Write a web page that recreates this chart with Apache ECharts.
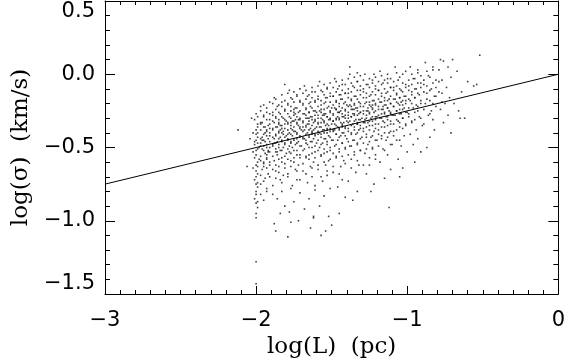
<!DOCTYPE html>
<html>
<head>
<meta charset="utf-8">
<script src="https://cdn.jsdelivr.net/npm/echarts@6/dist/echarts.min.js"></script>
<style>
  html, body { margin: 0; padding: 0; background: #fff; }
  #chart { width: 568px; height: 364px; }
</style>
</head>
<body>
<div id="chart"></div>
<script>
// tick labels
const xTicks = [-3, -2, -1, 0];
const yTicks = [-1.5, -1.0, -0.5, 0.0, 0.5];

// fitted relation drawn across the plot
const fitLine = [[-3, -0.75], [0, 0.0]];

// column of clouds sitting at log(L) = -2 and a few strays
const colAtMinus2 = [
  [-2.00,-0.27],[-2.01,-0.31],[-1.99,-0.34],[-2.00,-0.38],[-2.02,-0.40],[-1.99,-0.43],[-2.00,-0.45],[-2.01,-0.48],
  [-1.98,-0.50],[-2.00,-0.52],[-2.00,-0.55],[-2.01,-0.57],[-1.99,-0.60],[-2.00,-0.62],[-2.02,-0.64],[-2.00,-0.66],
  [-1.99,-0.68],[-2.00,-0.70],[-2.01,-0.72],[-2.00,-0.75],[-1.99,-0.77],[-2.00,-0.80],[-2.00,-0.82],[-2.01,-0.85],
  [-2.00,-0.88],[-1.99,-0.91],[-2.00,-0.95],[-2.00,-0.98],[-1.99,-0.36],[-2.01,-0.46],[-1.98,-0.58],[-2.00,-0.41],
  [-2.02,-0.53],[-1.99,-0.47],[-2.00,-1.28],[-2.00,-1.43],[-2.06,-0.63],[-2.12,-0.38],[-2.03,-0.30],[-2.04,-0.44]
];

// dense part of the cloud, log(L) from -2 to -1.5
const cloudLeft = [
  [-1.97,-0.22],[-1.93,-0.26],[-1.95,-0.29],[-1.91,-0.31],[-1.96,-0.33],[-1.92,-0.35],[-1.94,-0.36],[-1.97,-0.38],
  [-1.93,-0.39],[-1.95,-0.41],[-1.91,-0.42],[-1.96,-0.43],[-1.92,-0.44],[-1.94,-0.46],[-1.97,-0.47],[-1.93,-0.48],
  [-1.95,-0.49],[-1.91,-0.50],[-1.96,-0.51],[-1.92,-0.53],[-1.94,-0.54],[-1.97,-0.56],[-1.93,-0.58],[-1.95,-0.60],
  [-1.91,-0.62],[-1.96,-0.65],[-1.92,-0.68],[-1.94,-0.71],[-1.97,-0.75],[-1.93,-0.80],[-1.95,-0.86],[-1.91,-0.37],
  [-1.96,-0.45],[-1.92,-0.52],[-1.94,-0.40],[-1.97,-0.34],[-1.93,-0.57],[-1.95,-0.63],
  [-1.88,-0.16],[-1.83,-0.19],[-1.86,-0.22],[-1.81,-0.24],[-1.89,-0.26],[-1.84,-0.27],[-1.87,-0.29],[-1.82,-0.30],
  [-1.85,-0.31],[-1.88,-0.33],[-1.81,-0.34],[-1.84,-0.35],[-1.86,-0.36],[-1.83,-0.37],[-1.89,-0.38],[-1.82,-0.39],
  [-1.85,-0.40],[-1.87,-0.41],[-1.80,-0.42],[-1.84,-0.43],[-1.88,-0.44],[-1.83,-0.45],[-1.86,-0.46],[-1.81,-0.47],
  [-1.85,-0.48],[-1.89,-0.49],[-1.82,-0.50],[-1.87,-0.51],[-1.84,-0.52],[-1.80,-0.54],[-1.86,-0.55],[-1.83,-0.57],
  [-1.88,-0.59],[-1.81,-0.61],[-1.85,-0.63],[-1.87,-0.66],[-1.82,-0.69],[-1.84,-0.72],[-1.89,-0.76],[-1.83,-0.80],
  [-1.86,-0.85],[-1.81,-0.90],[-1.85,-0.34],[-1.82,-0.41],[-1.88,-0.47],[-1.84,-0.38],[-1.86,-0.53],[-1.80,-0.32],
  [-1.78,-0.11],[-1.73,-0.14],[-1.76,-0.17],[-1.71,-0.19],[-1.79,-0.21],[-1.74,-0.23],[-1.77,-0.25],[-1.72,-0.26],
  [-1.75,-0.28],[-1.78,-0.29],[-1.71,-0.30],[-1.74,-0.31],[-1.76,-0.32],[-1.73,-0.33],[-1.79,-0.34],[-1.72,-0.35],
  [-1.75,-0.36],[-1.77,-0.37],[-1.70,-0.38],[-1.74,-0.39],[-1.78,-0.40],[-1.73,-0.41],[-1.76,-0.42],[-1.71,-0.43],
  [-1.75,-0.44],[-1.79,-0.45],[-1.72,-0.46],[-1.77,-0.47],[-1.74,-0.48],[-1.70,-0.49],[-1.76,-0.50],[-1.73,-0.52],
  [-1.78,-0.53],[-1.71,-0.55],[-1.75,-0.57],[-1.77,-0.59],[-1.72,-0.62],[-1.74,-0.65],[-1.79,-0.68],[-1.73,-0.72],
  [-1.76,-0.76],[-1.71,-0.81],[-1.75,-0.87],[-1.78,-0.94],[-1.72,-1.00],[-1.74,-0.27],[-1.77,-0.33],[-1.71,-0.36],
  [-1.79,-0.41],[-1.73,-0.44],[-1.76,-0.38],[-1.72,-0.31],[-1.78,-0.49],[-1.75,-0.24],
  [-1.68,-0.08],[-1.63,-0.12],[-1.66,-0.15],[-1.61,-0.18],[-1.69,-0.20],[-1.64,-0.22],[-1.67,-0.23],[-1.62,-0.25],
  [-1.65,-0.26],[-1.68,-0.27],[-1.61,-0.28],[-1.64,-0.29],[-1.66,-0.30],[-1.63,-0.31],[-1.69,-0.32],[-1.62,-0.33],
  [-1.65,-0.34],[-1.67,-0.35],[-1.60,-0.36],[-1.64,-0.37],[-1.68,-0.38],[-1.63,-0.39],[-1.66,-0.40],[-1.61,-0.41],
  [-1.65,-0.42],[-1.69,-0.43],[-1.62,-0.44],[-1.67,-0.45],[-1.64,-0.46],[-1.60,-0.47],[-1.66,-0.48],[-1.63,-0.50],
  [-1.68,-0.51],[-1.61,-0.53],[-1.65,-0.55],[-1.67,-0.57],[-1.62,-0.60],[-1.64,-0.63],[-1.69,-0.66],[-1.63,-0.70],
  [-1.66,-0.74],[-1.61,-0.79],[-1.65,-0.85],[-1.68,-0.92],[-1.62,-0.98],[-1.64,-1.05],[-1.67,-0.28],[-1.61,-0.32],
  [-1.69,-0.36],[-1.63,-0.41],[-1.66,-0.34],[-1.62,-0.38],[-1.68,-0.44],[-1.65,-0.30],[-1.60,-0.26],[-1.64,-0.19],
  [-1.58,-0.05],[-1.53,-0.09],[-1.56,-0.12],[-1.51,-0.15],[-1.59,-0.17],[-1.54,-0.19],[-1.57,-0.21],[-1.52,-0.22],
  [-1.55,-0.24],[-1.58,-0.25],[-1.51,-0.26],[-1.54,-0.27],[-1.56,-0.28],[-1.53,-0.29],[-1.59,-0.30],[-1.52,-0.31],
  [-1.55,-0.32],[-1.57,-0.33],[-1.50,-0.34],[-1.54,-0.35],[-1.58,-0.36],[-1.53,-0.37],[-1.56,-0.38],[-1.51,-0.39],
  [-1.55,-0.40],[-1.59,-0.41],[-1.52,-0.42],[-1.57,-0.43],[-1.54,-0.44],[-1.50,-0.45],[-1.56,-0.47],[-1.53,-0.48],
  [-1.58,-0.50],[-1.51,-0.52],[-1.55,-0.54],[-1.57,-0.56],[-1.52,-0.59],[-1.54,-0.62],[-1.59,-0.65],[-1.53,-0.69],
  [-1.56,-0.73],[-1.51,-0.78],[-1.55,-0.83],[-1.58,-0.90],[-1.52,-0.97],[-1.54,-1.07],[-1.57,-0.26],[-1.51,-0.30],
  [-1.59,-0.34],[-1.53,-0.38],[-1.56,-0.31],[-1.52,-0.35],[-1.58,-0.40],[-1.55,-0.28],[-1.50,-0.23],[-1.54,-0.16]
];

// middle of the cloud, log(L) from -1.5 to -1
const cloudMid = [
  [-1.48,-0.03],[-1.43,-0.07],[-1.46,-0.10],[-1.41,-0.13],[-1.49,-0.15],[-1.44,-0.17],[-1.47,-0.19],[-1.42,-0.20],
  [-1.45,-0.22],[-1.48,-0.23],[-1.41,-0.24],[-1.44,-0.25],[-1.46,-0.26],[-1.43,-0.27],[-1.49,-0.28],[-1.42,-0.29],
  [-1.45,-0.30],[-1.47,-0.31],[-1.40,-0.32],[-1.44,-0.33],[-1.48,-0.34],[-1.43,-0.35],[-1.46,-0.36],[-1.41,-0.37],
  [-1.45,-0.38],[-1.49,-0.39],[-1.42,-0.40],[-1.47,-0.41],[-1.44,-0.42],[-1.40,-0.44],[-1.46,-0.45],[-1.43,-0.47],
  [-1.48,-0.49],[-1.41,-0.51],[-1.45,-0.53],[-1.47,-0.56],[-1.42,-0.59],[-1.44,-0.63],[-1.49,-0.67],[-1.43,-0.72],
  [-1.46,-0.77],[-1.41,-0.84],[-1.45,-0.95],[-1.47,-0.24],[-1.41,-0.28],[-1.49,-0.32],[-1.43,-0.36],[-1.46,-0.29],
  [-1.42,-0.33],[-1.48,-0.38],[-1.45,-0.26],[-1.40,-0.21],[-1.44,-0.14],
  [-1.38,0.00],[-1.33,-0.05],[-1.36,-0.08],[-1.31,-0.11],[-1.39,-0.13],[-1.34,-0.15],[-1.37,-0.17],[-1.32,-0.19],
  [-1.35,-0.20],[-1.38,-0.21],[-1.31,-0.22],[-1.34,-0.23],[-1.36,-0.24],[-1.33,-0.25],[-1.39,-0.26],[-1.32,-0.27],
  [-1.35,-0.28],[-1.37,-0.29],[-1.30,-0.30],[-1.34,-0.31],[-1.38,-0.32],[-1.33,-0.33],[-1.36,-0.34],[-1.31,-0.35],
  [-1.35,-0.36],[-1.39,-0.37],[-1.32,-0.38],[-1.37,-0.40],[-1.34,-0.41],[-1.30,-0.43],[-1.36,-0.45],[-1.33,-0.47],
  [-1.38,-0.49],[-1.31,-0.52],[-1.35,-0.55],[-1.37,-0.58],[-1.32,-0.62],[-1.34,-0.67],[-1.39,-0.73],[-1.33,-0.80],
  [-1.36,-0.86],[-1.37,-0.22],[-1.31,-0.26],[-1.39,-0.30],[-1.33,-0.34],[-1.36,-0.27],[-1.32,-0.31],[-1.35,-0.24],
  [-1.28,0.00],[-1.23,-0.04],[-1.26,-0.07],[-1.21,-0.10],[-1.29,-0.12],[-1.24,-0.14],[-1.27,-0.16],[-1.22,-0.18],
  [-1.25,-0.19],[-1.28,-0.20],[-1.21,-0.21],[-1.24,-0.22],[-1.26,-0.23],[-1.23,-0.24],[-1.29,-0.25],[-1.22,-0.26],
  [-1.25,-0.27],[-1.27,-0.28],[-1.20,-0.29],[-1.24,-0.30],[-1.28,-0.31],[-1.23,-0.32],[-1.26,-0.33],[-1.21,-0.34],
  [-1.25,-0.35],[-1.29,-0.37],[-1.22,-0.39],[-1.27,-0.41],[-1.24,-0.43],[-1.20,-0.45],[-1.26,-0.48],[-1.23,-0.51],
  [-1.28,-0.54],[-1.21,-0.58],[-1.25,-0.62],[-1.27,-0.68],[-1.22,-0.75],[-1.24,-0.80],[-1.26,-0.25],[-1.21,-0.29],
  [-1.28,-0.33],[-1.23,-0.21],
  [-1.18,0.02],[-1.13,-0.03],[-1.16,-0.06],[-1.11,-0.09],[-1.19,-0.11],[-1.14,-0.13],[-1.17,-0.15],[-1.12,-0.17],
  [-1.15,-0.18],[-1.18,-0.19],[-1.11,-0.20],[-1.14,-0.21],[-1.16,-0.22],[-1.13,-0.23],[-1.19,-0.24],[-1.12,-0.25],
  [-1.15,-0.26],[-1.17,-0.27],[-1.10,-0.28],[-1.14,-0.29],[-1.18,-0.30],[-1.13,-0.31],[-1.16,-0.32],[-1.11,-0.34],
  [-1.15,-0.36],[-1.19,-0.38],[-1.12,-0.40],[-1.17,-0.42],[-1.14,-0.45],[-1.10,-0.48],[-1.16,-0.51],[-1.13,-0.55],
  [-1.18,-0.60],[-1.11,-0.65],[-1.15,-0.71],[-1.12,-0.91],[-1.16,-0.24],[-1.11,-0.27],
  [-1.08,0.05],[-1.03,0.00],[-1.06,-0.04],[-1.01,-0.07],[-1.09,-0.09],[-1.04,-0.11],[-1.07,-0.13],[-1.02,-0.15],
  [-1.05,-0.16],[-1.08,-0.17],[-1.01,-0.18],[-1.04,-0.19],[-1.06,-0.20],[-1.03,-0.21],[-1.09,-0.22],[-1.02,-0.23],
  [-1.05,-0.24],[-1.07,-0.25],[-1.00,-0.26],[-1.04,-0.27],[-1.08,-0.28],[-1.03,-0.30],[-1.06,-0.32],[-1.01,-0.34],
  [-1.05,-0.36],[-1.09,-0.39],[-1.02,-0.42],[-1.07,-0.45],[-1.04,-0.49],[-1.00,-0.53],[-1.06,-0.58],[-1.03,-0.64],
  [-1.05,-0.70]
];

// more points filling the crowded core, read column by column
const cloudCore = [
  [-1.99,-0.29],[-1.99,-0.40],[-1.99,-0.51],[-1.99,-0.63],[-1.99,-0.74],[-1.99,-0.87],
  [-1.97,-0.25],[-1.97,-0.33],[-1.97,-0.44],[-1.97,-0.49],[-1.97,-0.59],[-1.97,-0.69],[-1.97,-0.82],
  [-1.95,-0.21],[-1.95,-0.28],[-1.95,-0.36],[-1.95,-0.45],[-1.95,-0.52],[-1.95,-0.61],[-1.95,-0.73],
  [-1.93,-0.23],[-1.93,-0.31],[-1.93,-0.38],[-1.93,-0.42],[-1.93,-0.50],[-1.93,-0.55],[-1.93,-0.64],[-1.93,-0.78],
  [-1.91,-0.19],[-1.91,-0.27],[-1.91,-0.34],[-1.91,-0.40],[-1.91,-0.46],[-1.91,-0.53],[-1.91,-0.60],[-1.91,-0.70],
  [-1.89,-0.20],[-1.89,-0.28],[-1.89,-0.32],[-1.89,-0.37],[-1.89,-0.43],[-1.89,-0.48],[-1.89,-0.56],[-1.89,-0.65],[-1.89,-0.82],
  [-1.87,-0.17],[-1.87,-0.24],[-1.87,-0.30],[-1.87,-0.36],[-1.87,-0.42],[-1.87,-0.47],[-1.87,-0.53],[-1.87,-0.62],[-1.87,-0.71],
  [-1.85,-0.21],[-1.85,-0.26],[-1.85,-0.33],[-1.85,-0.39],[-1.85,-0.44],[-1.85,-0.50],[-1.85,-0.58],[-1.85,-0.67],
  [-1.83,-0.14],[-1.83,-0.22],[-1.83,-0.29],[-1.83,-0.35],[-1.83,-0.40],[-1.83,-0.46],[-1.83,-0.52],[-1.83,-0.60],[-1.83,-0.74],
  [-1.81,-0.18],[-1.81,-0.25],[-1.81,-0.31],[-1.81,-0.37],[-1.81,-0.43],[-1.81,-0.48],[-1.81,-0.56],[-1.81,-0.64],
  [-1.79,-0.13],[-1.79,-0.20],[-1.79,-0.27],[-1.79,-0.33],[-1.79,-0.38],[-1.79,-0.44],[-1.79,-0.51],[-1.79,-0.58],[-1.79,-0.70],
  [-1.77,-0.16],[-1.77,-0.22],[-1.77,-0.30],[-1.77,-0.35],[-1.77,-0.41],[-1.77,-0.46],[-1.77,-0.54],[-1.77,-0.63],[-1.77,-0.78],
  [-1.75,-0.12],[-1.75,-0.19],[-1.75,-0.26],[-1.75,-0.32],[-1.75,-0.39],[-1.75,-0.45],[-1.75,-0.52],[-1.75,-0.60],
  [-1.73,-0.15],[-1.73,-0.23],[-1.73,-0.29],[-1.73,-0.34],[-1.73,-0.40],[-1.73,-0.47],[-1.73,-0.55],[-1.73,-0.66],
  [-1.71,-0.10],[-1.71,-0.18],[-1.71,-0.25],[-1.71,-0.31],[-1.71,-0.37],[-1.71,-0.42],[-1.71,-0.49],[-1.71,-0.57],[-1.71,-0.72],
  [-1.69,-0.13],[-1.69,-0.21],[-1.69,-0.27],[-1.69,-0.33],[-1.69,-0.39],[-1.69,-0.44],[-1.69,-0.52],[-1.69,-0.61],
  [-1.67,-0.11],[-1.67,-0.17],[-1.67,-0.24],[-1.67,-0.30],[-1.67,-0.36],[-1.67,-0.41],[-1.67,-0.47],[-1.67,-0.56],[-1.67,-0.68],
  [-1.65,-0.14],[-1.65,-0.20],[-1.65,-0.26],[-1.65,-0.32],[-1.65,-0.38],[-1.65,-0.43],[-1.65,-0.50],[-1.65,-0.58],
  [-1.63,-0.09],[-1.63,-0.16],[-1.63,-0.23],[-1.63,-0.29],[-1.63,-0.35],[-1.63,-0.40],[-1.63,-0.46],[-1.63,-0.54],[-1.63,-0.64],
  [-1.61,-0.12],[-1.61,-0.19],[-1.61,-0.25],[-1.61,-0.31],[-1.61,-0.37],[-1.61,-0.42],[-1.61,-0.49],[-1.61,-0.57],[-1.61,-0.76],
  [-1.59,-0.08],[-1.59,-0.15],[-1.59,-0.22],[-1.59,-0.28],[-1.59,-0.33],[-1.59,-0.39],[-1.59,-0.45],[-1.59,-0.52],[-1.59,-0.62],
  [-1.57,-0.11],[-1.57,-0.18],[-1.57,-0.24],[-1.57,-0.30],[-1.57,-0.36],[-1.57,-0.41],[-1.57,-0.48],[-1.57,-0.55],[-1.57,-0.70],
  [-1.55,-0.07],[-1.55,-0.14],[-1.55,-0.20],[-1.55,-0.27],[-1.55,-0.33],[-1.55,-0.38],[-1.55,-0.44],[-1.55,-0.51],[-1.55,-0.60],
  [-1.53,-0.10],[-1.53,-0.16],[-1.53,-0.23],[-1.53,-0.29],[-1.53,-0.34],[-1.53,-0.40],[-1.53,-0.46],[-1.53,-0.53],[-1.53,-0.66],
  [-1.51,-0.06],[-1.51,-0.13],[-1.51,-0.19],[-1.51,-0.25],[-1.51,-0.31],[-1.51,-0.37],[-1.51,-0.43],[-1.51,-0.50],[-1.51,-0.58],
  [-1.49,-0.09],[-1.49,-0.15],[-1.49,-0.21],[-1.49,-0.27],[-1.49,-0.32],[-1.49,-0.38],[-1.49,-0.45],[-1.49,-0.54],[-1.49,-0.63],
  [-1.47,-0.05],[-1.47,-0.12],[-1.47,-0.18],[-1.47,-0.24],[-1.47,-0.30],[-1.47,-0.35],[-1.47,-0.41],[-1.47,-0.48],[-1.47,-0.57],
  [-1.45,-0.08],[-1.45,-0.14],[-1.45,-0.20],[-1.45,-0.26],[-1.45,-0.31],[-1.45,-0.37],[-1.45,-0.43],[-1.45,-0.51],[-1.45,-0.68],
  [-1.43,-0.04],[-1.43,-0.11],[-1.43,-0.17],[-1.43,-0.23],[-1.43,-0.29],[-1.43,-0.34],[-1.43,-0.40],[-1.43,-0.47],[-1.43,-0.56],
  [-1.41,-0.07],[-1.41,-0.13],[-1.41,-0.19],[-1.41,-0.25],[-1.41,-0.30],[-1.41,-0.36],[-1.41,-0.42],[-1.41,-0.50],[-1.41,-0.61],
  [-1.39,-0.03],[-1.39,-0.10],[-1.39,-0.16],[-1.39,-0.22],[-1.39,-0.28],[-1.39,-0.33],[-1.39,-0.39],[-1.39,-0.46],[-1.39,-0.55],
  [-1.37,-0.06],[-1.37,-0.12],[-1.37,-0.18],[-1.37,-0.24],[-1.37,-0.29],[-1.37,-0.35],[-1.37,-0.41],[-1.37,-0.49],[-1.37,-0.64],
  [-1.35,-0.02],[-1.35,-0.09],[-1.35,-0.15],[-1.35,-0.21],[-1.35,-0.27],[-1.35,-0.32],[-1.35,-0.38],[-1.35,-0.45],[-1.35,-0.53],
  [-1.33,-0.05],[-1.33,-0.11],[-1.33,-0.17],[-1.33,-0.23],[-1.33,-0.28],[-1.33,-0.34],[-1.33,-0.40],[-1.33,-0.48],[-1.33,-0.59],
  [-1.31,-0.01],[-1.31,-0.08],[-1.31,-0.14],[-1.31,-0.20],[-1.31,-0.26],[-1.31,-0.31],[-1.31,-0.37],[-1.31,-0.44],[-1.31,-0.52],
  [-1.29,-0.04],[-1.29,-0.10],[-1.29,-0.16],[-1.29,-0.22],[-1.29,-0.27],[-1.29,-0.33],[-1.29,-0.39],[-1.29,-0.47],[-1.29,-0.62],
  [-1.27,-0.07],[-1.27,-0.13],[-1.27,-0.19],[-1.27,-0.25],[-1.27,-0.30],[-1.27,-0.36],[-1.27,-0.43],[-1.27,-0.51],
  [-1.25,-0.03],[-1.25,-0.09],[-1.25,-0.15],[-1.25,-0.21],[-1.25,-0.26],[-1.25,-0.32],[-1.25,-0.38],[-1.25,-0.46],[-1.25,-0.57],
  [-1.23,-0.06],[-1.23,-0.12],[-1.23,-0.18],[-1.23,-0.23],[-1.23,-0.29],[-1.23,-0.35],[-1.23,-0.42],[-1.23,-0.50],
  [-1.21,-0.02],[-1.21,-0.08],[-1.21,-0.14],[-1.21,-0.20],[-1.21,-0.25],[-1.21,-0.31],[-1.21,-0.37],[-1.21,-0.45],[-1.21,-0.55],
  [-1.19,-0.05],[-1.19,-0.11],[-1.19,-0.17],[-1.19,-0.22],[-1.19,-0.28],[-1.19,-0.34],[-1.19,-0.41],[-1.19,-0.49],
  [-1.17,-0.01],[-1.17,-0.07],[-1.17,-0.13],[-1.17,-0.19],[-1.17,-0.24],[-1.17,-0.30],[-1.17,-0.36],[-1.17,-0.44],
  [-1.15,-0.04],[-1.15,-0.10],[-1.15,-0.16],[-1.15,-0.21],[-1.15,-0.27],[-1.15,-0.33],[-1.15,-0.40],[-1.15,-0.52],
  [-1.13,0.00],[-1.13,-0.06],[-1.13,-0.12],[-1.13,-0.18],[-1.13,-0.23],[-1.13,-0.29],[-1.13,-0.35],[-1.13,-0.43],
  [-1.11,-0.03],[-1.11,-0.09],[-1.11,-0.15],[-1.11,-0.20],[-1.11,-0.26],[-1.11,-0.32],[-1.11,-0.39],[-1.11,-0.48],
  [-1.09,-0.05],[-1.09,-0.11],[-1.09,-0.17],[-1.09,-0.22],[-1.09,-0.28],[-1.09,-0.34],[-1.09,-0.42],
  [-1.07,0.01],[-1.07,-0.08],[-1.07,-0.14],[-1.07,-0.19],[-1.07,-0.25],[-1.07,-0.31],[-1.07,-0.38],
  [-1.05,-0.02],[-1.05,-0.10],[-1.05,-0.16],[-1.05,-0.21],[-1.05,-0.27],[-1.05,-0.33],[-1.05,-0.45],
  [-1.03,-0.06],[-1.03,-0.12],[-1.03,-0.18],[-1.03,-0.24],[-1.03,-0.30],[-1.03,-0.37],
  [-1.01,0.02],[-1.01,-0.09],[-1.01,-0.15],[-1.01,-0.20],[-1.01,-0.26],[-1.01,-0.35],
  [-0.99,-0.04],[-0.99,-0.11],[-0.99,-0.17],[-0.99,-0.23],[-0.99,-0.29],
  [-0.97,0.00],[-0.97,-0.07],[-0.97,-0.14],[-0.97,-0.20],[-0.97,-0.32],
  [-0.95,-0.03],[-0.95,-0.10],[-0.95,-0.16],[-0.95,-0.26],
  [-0.93,0.03],[-0.93,-0.06],[-0.93,-0.13],[-0.93,-0.22],
  [-0.91,-0.01],[-0.91,-0.09],[-0.91,-0.18],[-0.91,-0.30],
  [-0.89,-0.04],[-0.89,-0.12],[-0.89,-0.24],
  [-0.87,0.02],[-0.87,-0.08],[-0.87,-0.17],
  [-0.85,-0.02],[-0.85,-0.11],[-0.85,-0.27],
  [-0.83,0.05],[-0.83,-0.06],[-0.83,-0.20],
  [-0.81,-0.09],[-0.81,-0.15],[-0.79,0.03],[-0.79,-0.12],[-0.77,-0.04],[-0.77,-0.19]
];

// thin right-hand tail, log(L) above -1
const cloudRight = [
  [-0.98,0.05],[-0.93,0.01],[-0.96,-0.03],[-0.91,-0.06],[-0.99,-0.08],[-0.94,-0.10],[-0.97,-0.12],[-0.92,-0.14],
  [-0.95,-0.16],[-0.98,-0.18],[-0.91,-0.20],[-0.94,-0.21],[-0.96,-0.23],[-0.93,-0.25],[-0.99,-0.27],[-0.92,-0.29],
  [-0.95,-0.31],[-0.97,-0.33],[-0.90,-0.35],[-0.94,-0.38],[-0.98,-0.41],[-0.93,-0.44],[-0.96,-0.48],[-0.91,-0.53],
  [-0.95,-0.60],
  [-0.88,0.08],[-0.83,0.03],[-0.86,-0.01],[-0.81,-0.04],[-0.89,-0.07],[-0.84,-0.10],[-0.87,-0.13],[-0.82,-0.15],
  [-0.85,-0.18],[-0.88,-0.20],[-0.81,-0.22],[-0.84,-0.25],[-0.86,-0.28],[-0.83,-0.31],[-0.89,-0.34],[-0.82,-0.38],
  [-0.85,-0.43],[-0.87,-0.50],
  [-0.78,0.10],[-0.73,0.05],[-0.76,0.09],[-0.71,-0.02],[-0.79,-0.05],[-0.74,-0.09],[-0.77,-0.13],[-0.72,-0.16],
  [-0.75,-0.20],[-0.78,-0.24],[-0.73,-0.28],[-0.76,-0.33],[-0.71,-0.40],[-0.70,0.10],[-0.69,-0.20],[-0.66,-0.25],
  [-0.65,-0.30],[-0.62,-0.30],[-0.56,-0.08],[-0.54,-0.07],[-0.52,0.13],[-0.67,0.02],[-0.64,-0.12],[-0.60,-0.05]
];

// scattered points above and below the main cloud
const outliers = [
  [-1.88,-1.02],[-1.87,-1.07],[-1.79,-1.11],[-1.57,-1.10],[-1.50,-1.03],[-1.84,-0.95],[-1.77,-1.01],[-1.62,-0.97],
  [-1.81,-0.07],[-1.38,0.05],[-1.33,0.01],[-1.22,0.00]
];

const points = colAtMinus2.concat(cloudLeft, cloudMid, cloudCore, cloudRight, outliers);

const minus = v => String(v).replace('-', '\u2212');
const tickFont = { fontFamily: 'DejaVu Sans', fontSize: 21, color: '#000' };
const boxLine = { onZero: false, lineStyle: { color: '#000', width: 1 } };

let chart = echarts.init(document.getElementById('chart'), null, { renderer: 'canvas' });
chart.setOption({
  backgroundColor: '#fff',
  animation: false,
  grid: { left: 105, right: 5, top: 1, bottom: 70 },
  xAxis: [{
    type: 'value', min: -3, max: 0, interval: 1,
    name: 'log(L)  (pc)', nameLocation: 'middle', nameGap: 36,
    nameTextStyle: { fontFamily: 'DejaVu Serif', fontSize: 23, color: '#000' },
    axisLine: boxLine,
    axisTick: { inside: true, length: 8, lineStyle: { color: '#000' } },
    minorTick: { show: true, splitNumber: 10, length: 4, lineStyle: { color: '#000' } },
    splitLine: { show: false },
    axisLabel: Object.assign({ margin: 16, formatter: v => xTicks.includes(v) ? minus(v) : '' }, tickFont)
  }, {
    type: 'value', min: -3, max: 0, interval: 1, position: 'top',
    axisLine: boxLine,
    axisTick: { inside: true, length: 8, lineStyle: { color: '#000' } },
    minorTick: { show: true, splitNumber: 10, length: 4, lineStyle: { color: '#000' } },
    splitLine: { show: false }, axisLabel: { show: false }
  }],
  yAxis: [{
    type: 'value', min: -1.5, max: 0.5, interval: 0.5,
    name: 'log(\u03c3)  (km/s)', nameLocation: 'middle', nameGap: 72, nameRotate: 90,
    nameTextStyle: { fontFamily: 'DejaVu Serif', fontSize: 23, color: '#000' },
    axisLine: boxLine,
    axisTick: { inside: true, length: 10, lineStyle: { color: '#000' } },
    minorTick: { show: true, splitNumber: 5, length: 5, lineStyle: { color: '#000' } },
    splitLine: { show: false },
    axisLabel: Object.assign({
      margin: 10,
      verticalAlignMinLabel: 'bottom', verticalAlignMaxLabel: 'top',
      formatter: v => yTicks.includes(v) ? minus(v.toFixed(1)) : ''
    }, tickFont)
  }, {
    type: 'value', min: -1.5, max: 0.5, interval: 0.5, position: 'right',
    axisLine: boxLine,
    axisTick: { inside: true, length: 10, lineStyle: { color: '#000' } },
    minorTick: { show: true, splitNumber: 5, length: 5, lineStyle: { color: '#000' } },
    splitLine: { show: false }, axisLabel: { show: false }
  }],
  series: [{
    type: 'scatter',
    data: points,
    symbol: 'rect',
    symbolSize: 1.6,
    itemStyle: { color: '#111' },
    silent: true
  }, {
    type: 'line',
    data: fitLine,
    symbol: 'none',
    lineStyle: { color: '#000', width: 1 },
    silent: true
  }]
});
</script>
</body>
</html>
